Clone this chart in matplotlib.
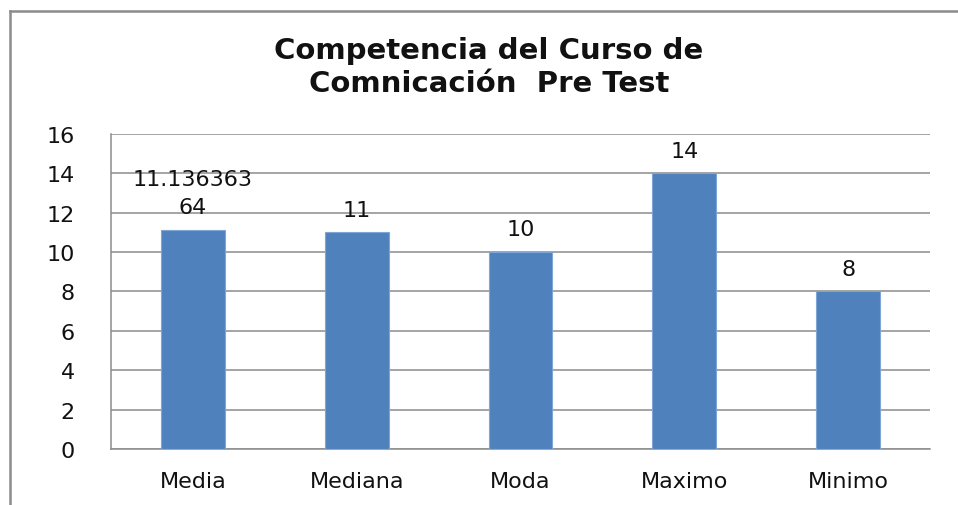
import matplotlib.pyplot as plt
from matplotlib.lines import Line2D
import textwrap

categorias = ['Media', 'Mediana', 'Moda', 'Maximo', 'Minimo']
valores = [11.13636364, 11, 10, 14, 8]
yticks = [0, 2, 4, 6, 8, 10, 12, 14, 16]
titulo = 'Competencia del Curso de\nComnicación  Pre Test'

plt.rcParams['font.family'] = ['DejaVu Sans']

fig = plt.figure(figsize=(9.58, 5.06), dpi=100)
ax = fig.add_axes([0.1159, 0.1107, 0.8549, 0.6225])

x = range(len(categorias))
ax.bar(x, valores, width=0.39, color='#4F81BD', edgecolor='#7FA6D6', linewidth=0.8, zorder=3)

ax.set_ylim(0, 16)
ax.set_xlim(-0.5, len(categorias) - 0.5)
ax.set_yticks(yticks)
ax.set_xticks(list(x))
ax.set_xticklabels(categorias)
ax.tick_params(axis='y', length=0, pad=26, labelsize=16, colors='#111111')
ax.tick_params(axis='x', length=0, pad=16, labelsize=16, colors='#111111')
ax.yaxis.grid(True, color='#8C8C8C', linewidth=1.1, zorder=0)

for s in ['top', 'right']:
    ax.spines[s].set_visible(False)
for s in ['left', 'bottom']:
    ax.spines[s].set_color('#8C8C8C')
    ax.spines[s].set_linewidth(1.1)

# etiquetas de datos (Excel corta el texto largo en dos lineas)
for xi, v in zip(x, valores):
    txt = '\n'.join(textwrap.wrap(f'{v:g}' if v == int(v) else str(v), 9))
    ax.annotate(txt, (xi, v), xytext=(0, 12), textcoords='offset points',
                ha='center', va='baseline', fontsize=16, color='#111111',
                linespacing=1.5)

fig.text(0.5105, 0.8666, titulo, ha='center', va='center', fontsize=21,
         fontweight='bold', linespacing=1.2, color='#111111')

# marco exterior del grafico
fig.add_artist(Line2D([10 / 958, 1], [1 - 12 / 506] * 2, color='#8C8C8C', linewidth=1.8))
fig.add_artist(Line2D([10 / 958] * 2, [0, 1 - 12 / 506], color='#8C8C8C', linewidth=1.8))

plt.savefig('out.png', dpi=100)
